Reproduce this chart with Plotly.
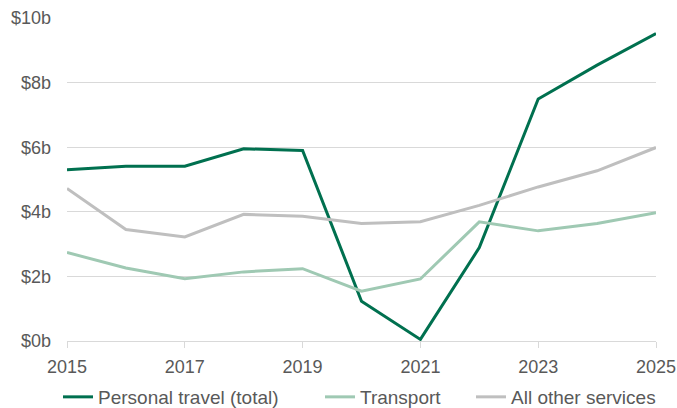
import plotly.graph_objects as go

years = list(range(2015, 2026))
personal_travel = [5.30, 5.41, 5.41, 5.95, 5.90, 1.23, 0.05, 2.89, 7.49, 8.54, 9.52]
transport = [2.74, 2.26, 1.93, 2.14, 2.24, 1.54, 1.92, 3.69, 3.41, 3.64, 3.97]
other_services = [4.72, 3.45, 3.22, 3.92, 3.86, 3.64, 3.69, 4.20, 4.77, 5.27, 5.99]

y_ticks = [0, 2, 4, 6, 8, 10]
y_tick_labels = ["$0b", "$2b", "$4b", "$6b", "$8b", "$10b"]

series = [
    ("Personal travel (total)", personal_travel, "#00704f", "legend"),
    ("Transport", transport, "#9fc9b3", "legend2"),
    ("All other services", other_services, "#bfbfbf", "legend3"),
]

W, H = 677, 408

fig = go.Figure()
for name, vals, color, lg in series:
    fig.add_trace(go.Scatter(x=years, y=vals, name=name, mode="lines", legend=lg,
                             line=dict(color=color, width=3)))

font = dict(family="Liberation Sans, Arial, sans-serif", size=18, color="#595959")
lfont = dict(family="Liberation Sans, Arial, sans-serif", size=19, color="#595959")


def legend_at(px):
    return dict(orientation="h", x=px / W, xanchor="left", xref="container",
                y=(H - 397) / H, yanchor="middle", yref="container",
                font=lfont, borderwidth=0, bgcolor="rgba(0,0,0,0)")


fig.update_layout(
    width=W, height=H,
    margin=dict(l=67, r=21, t=18, b=67, autoexpand=False),
    paper_bgcolor="white", plot_bgcolor="white",
    font=font,
    showlegend=True,
    legend=legend_at(58),
    legend2=legend_at(320),
    legend3=legend_at(471),
)
fig.update_xaxes(range=[2015, 2025], tickmode="array", tickvals=[2015, 2017, 2019, 2021, 2023, 2025],
                 showgrid=False, showline=True, linecolor="#d9d9d9", linewidth=1,
                 ticks="outside", ticklen=6, tickcolor="#d9d9d9", tickfont=font,
                 zeroline=False, automargin=False, ticklabelstandoff=3)
fig.update_yaxes(range=[0, 10], tickvals=y_ticks, ticktext=y_tick_labels,
                 showgrid=True, gridcolor="#d9d9d9", gridwidth=1, zeroline=False,
                 showline=False, ticks="", tickfont=font, ticklabelstandoff=15,
                 automargin=False)

fig.write_html("out.html", config={"displayModeBar": False},
               post_script="document.body.style.margin='0';")
